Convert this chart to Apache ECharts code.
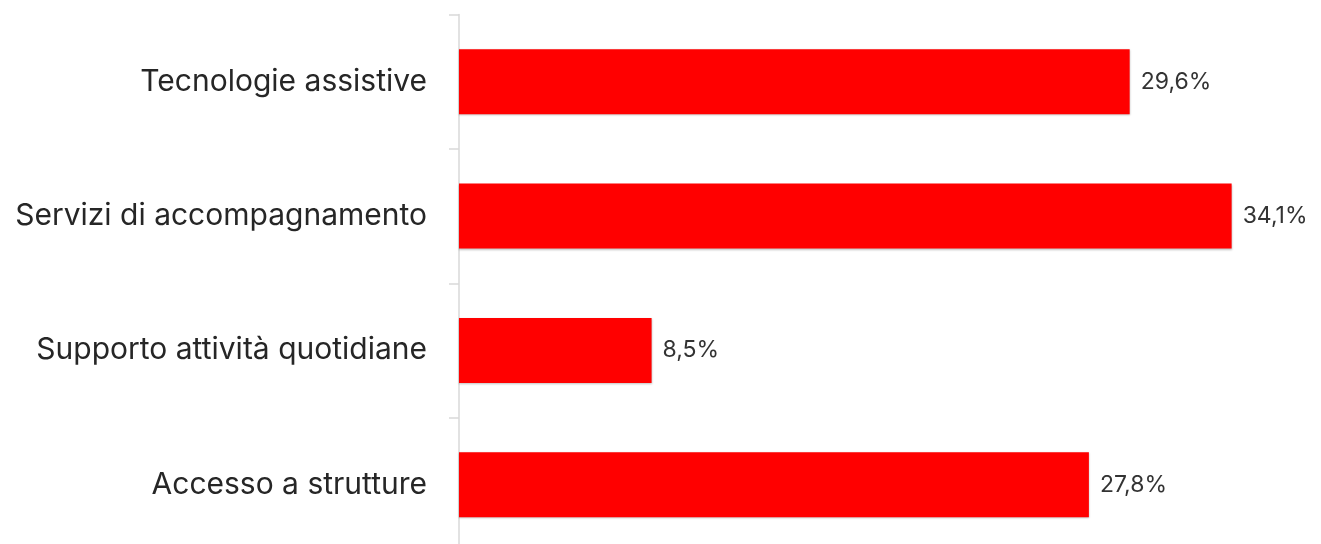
<!DOCTYPE html>
<html>
<head>
<meta charset="utf-8">
<script src="https://cdn.jsdelivr.net/npm/echarts@6/dist/echarts.min.js"></script>
<style>
html,body{margin:0;padding:0;background:#fff;overflow:hidden;}
#main{width:1321px;height:560px;}
</style>
</head>
<body>
<div id="main"></div>
<script>
const categories = ["Tecnologie assistive", "Servizi di accompagnamento", "Supporto attività quotidiane", "Accesso a strutture"];
const values = [29.6, 34.1, 8.5, 27.8];

const chart = echarts.init(document.getElementById('main'));
chart.setOption({
  animation: false,
  backgroundColor: '#ffffff',
  grid: { left: 459, right: 1, top: 14.5, height: 537.5, containLabel: false },
  xAxis: {
    type: 'value', min: 0, max: 38,
    show: false
  },
  yAxis: {
    type: 'category',
    data: categories,
    inverse: true,
    axisLine: { show: true, lineStyle: { color: '#d9d9d9', width: 1.5 } },
    axisTick: { show: true, length: 10, lineStyle: { color: '#d9d9d9', width: 1.5 } },
    axisLabel: {
      margin: 32,
      fontFamily: 'Inter',
      fontSize: 30,
      color: '#262626'
    },
    splitLine: { show: false }
  },
  series: [{
    type: 'bar',
    data: values,
    barWidth: 65,
    itemStyle: {
      color: '#ff0000',
      shadowColor: 'rgba(0,0,0,0.25)',
      shadowBlur: 2,
      shadowOffsetY: 1
    },
    label: {
      show: true,
      position: 'right',
      distance: 11,
      fontFamily: 'Inter',
      fontSize: 23,
      color: '#333333',
      formatter: p => p.value.toFixed(1).replace('.', ',') + '%'
    }
  }]
});
</script>
</body>
</html>
